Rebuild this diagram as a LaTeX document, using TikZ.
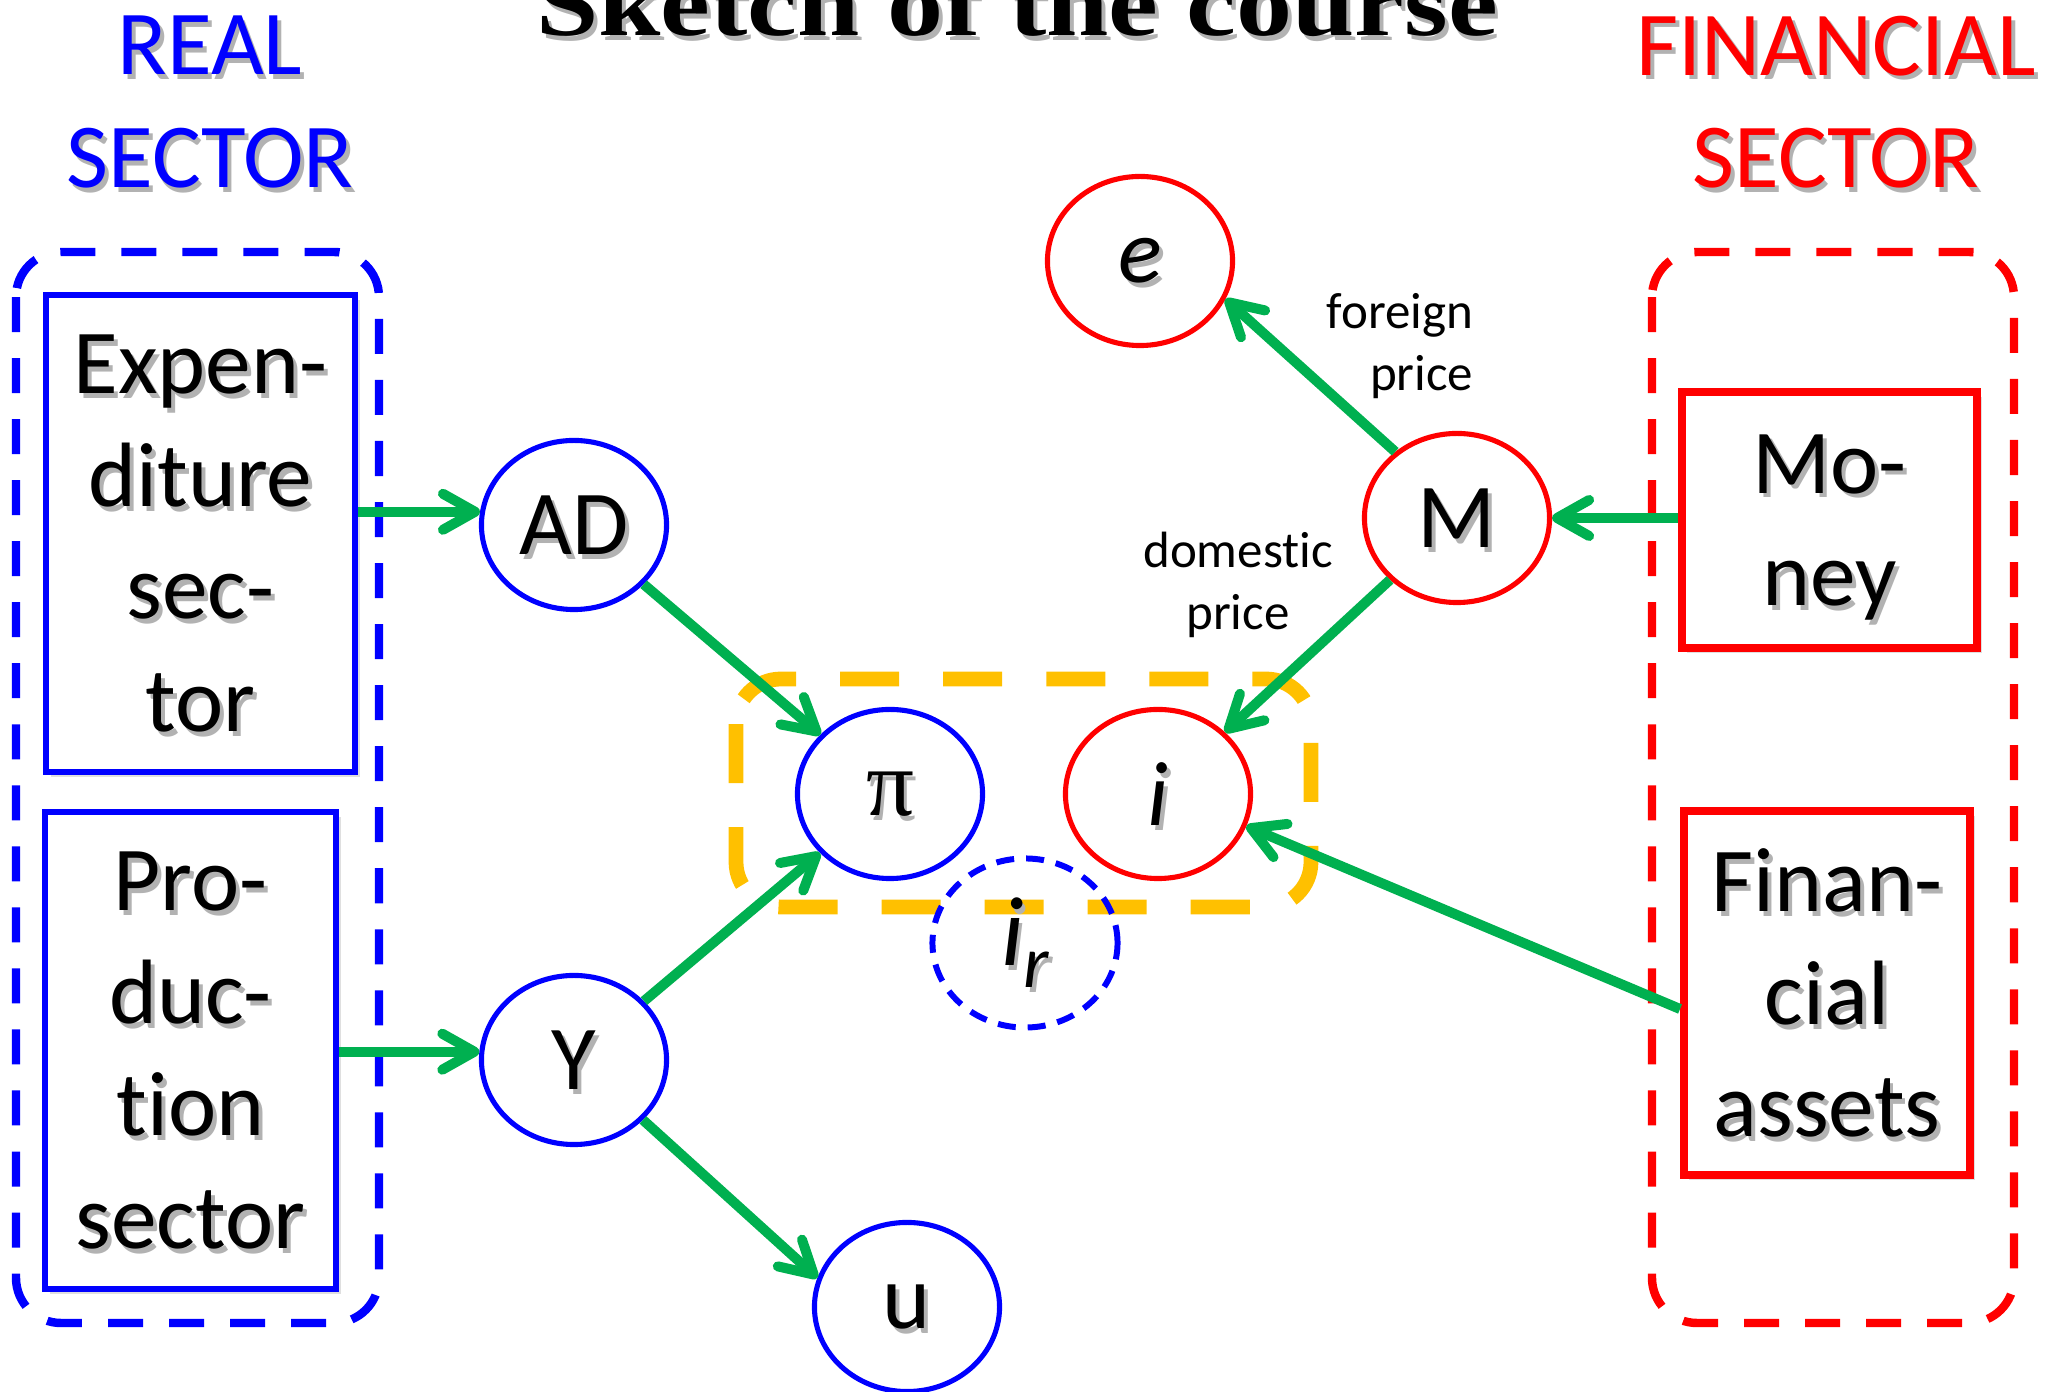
\documentclass[tikz,border=0pt]{standalone}
\usepackage{fontspec}
\setmainfont{Carlito}[Ligatures={NoCommon}]
\newfontfamily\titlefont{Liberation Serif}[FakeStretch=1.18]
\newfontfamily\greekfont{Liberation Serif}
\usetikzlibrary{arrows.meta,shapes.geometric,shadows}
\definecolor{rblue}{RGB}{0,0,255}
\definecolor{rred}{RGB}{255,0,0}
\definecolor{rgreen}{RGB}{0,176,80}
\definecolor{rgold}{RGB}{255,192,0}
\definecolor{shgray}{RGB}{178,178,178}
\newcommand\sh[1]{\leavevmode\rlap{\smash{\kern1.1pt\raisebox{-1.4pt}{\color{shgray}#1}}}#1}
\begin{document}
\begin{tikzpicture}[x=0.01cm, y=-0.01cm,
  big/.style={font=\fontsize{26}{32}\selectfont},
  small/.style={font=\fontsize{14.5}{17.6}\selectfont, inner sep=0pt},
  sectorbox/.style={rectangle, fill=white, inner sep=0pt, align=center, big,
     drop shadow={shadow xshift=1.4pt, shadow yshift=-1.4pt, opacity=0.25}},
  bluebox/.style={sectorbox, draw=rblue, line width=1.9pt},
  redbox/.style={sectorbox, draw=rred, line width=2.2pt},
  oval/.style={ellipse, minimum width=1.85cm, minimum height=1.69cm, inner sep=0pt,
     line width=1.45pt, fill=white, big},
  container/.style={line width=2.4pt, dash pattern=on 0.35cm off 0.26cm, rounded corners=0.45cm},
  arr/.style={draw=rgreen, line width=2.85pt, -{Straight Barb[length=3.2mm,width=3.6mm,round]}}
]
\useasboundingbox (0,0) rectangle (2047,1392);

% title and sector headings
\node[anchor=base, inner sep=0pt, font=\titlefont\bfseries\fontsize{27}{30}\selectfont] (title) at (1017,36) {\sh{Sketch of the course}};
\node[big, text=rblue, align=center, inner sep=0pt] (real) at (210,102) {\sh{REAL}\\\sh{SECTOR}};
\node[big, text=rred, align=center, inner sep=0pt] (finhead) at (1836,102) {\sh{FINANCIAL}\\\sh{SECTOR}};

% containers
\draw[container, draw=rblue] (16,252) rectangle (379,1323);
\draw[container, draw=rred] (1652,252) rectangle (2014,1323);

% orange group (behind the variables)
\draw[draw=rgold, line width=4.2pt, dash pattern=on 0.59cm off 0.44cm, rounded corners=0.45cm]
  (736,679) rectangle (1311,907);

% sector boxes
\node[bluebox, minimum width=3.09cm, minimum height=4.77cm] (exp) at (200.5,533.5)
  {\sh{Expen-}\\\sh{diture}\\\sh{sec-}\\\sh{tor}};
\node[bluebox, minimum width=2.91cm, minimum height=4.77cm] (prod) at (190.5,1050.5)
  {\sh{Pro-}\\\sh{duc-}\\\sh{tion}\\\sh{sector}};
\node[redbox, minimum width=2.95cm, minimum height=2.56cm] (money) at (1829.5,520)
  {\sh{Mo-}\\\smash{\sh{ney}}};
\node[redbox, minimum width=2.86cm, minimum height=3.64cm] (fin) at (1827,993)
  {\sh{Finan-}\\\sh{cial}\\\sh{assets}};

% variables
\node[oval, draw=rblue] (AD) at (574,525) {\sh{AD}};
\node[oval, draw=rblue] (Y) at (574,1060) {\sh{Y}};
\node[oval, draw=rblue] (pi) at (890,794) {\greekfont\fontsize{27}{30}\selectfont\sh{π}};
\node[oval, draw=rred] (i) at (1158,794) {\itshape\sh{i}};
\node[oval, draw=rred] (e) at (1140,261) {\itshape\sh{e}};
\node[oval, draw=rred] (M) at (1457,518) {\sh{M}};
\node[oval, draw=rblue] (u) at (907,1307) {\sh{u}};
\node[oval, draw=rblue, fill=none, line width=1.7pt, dash pattern=on 0.18cm off 0.12cm] (ir) at (1025,943)
  {\itshape\fontsize{28}{32}\selectfont\sh{i\raisebox{-0.22cm}{\fontsize{21}{21}\selectfont r}}};

% arrow labels
\node[small, align=right, anchor=east] (flab) at (1474,346) {foreign\\price};
\node[small, align=center] (dlab) at (1238,585) {domestic\\price};

% connectors
\draw[arr] (exp.east |- AD.172) -- (AD.172);
\draw[arr] (prod.east |- Y.175) -- (Y.175);
\draw[arr] (AD) -- (pi);
\draw[arr] (Y) -- (pi);
\draw[arr] (Y.-41) -- (u.162);
\draw[arr] (M.133) -- (e.-24);
\draw[arr] (M) -- (i);
\draw[arr] (money.west |- M.east) -- (M.east);
\draw[arr] ([yshift=-0.16cm]fin.west) -- (i.-20);
\end{tikzpicture}
\end{document}
